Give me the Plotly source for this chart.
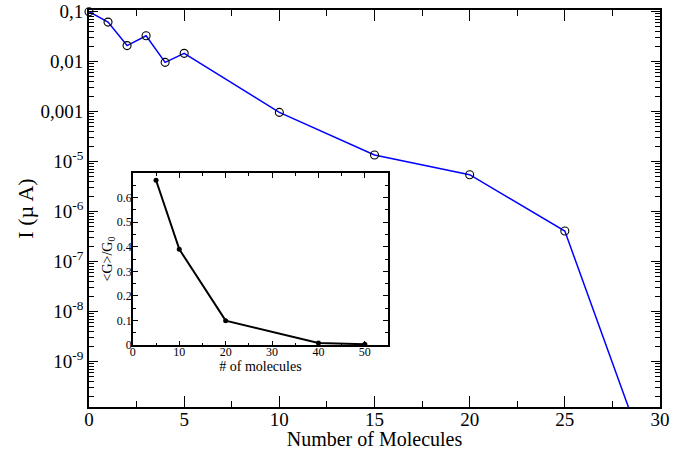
import plotly.graph_objects as go

# main data
n_mol = [0, 1, 2, 3, 4, 5, 10, 15, 20, 25, 30]
current = [0.1, 0.062, 0.021, 0.033, 0.0097, 0.0147, 0.00097, 1.36e-4, 5.5e-5, 4.1e-6, 2.2e-11]

# inset data
inset_n = [5, 10, 20, 40, 50]
inset_g = [0.67, 0.39, 0.10, 0.009, 0.004]

# tick labels (as printed in the original)
y_tickvals = [1e-1, 1e-2, 1e-3, 1e-4, 1e-5, 1e-6, 1e-7, 1e-8]
y_ticktext = ["0,1", "0,01", "0,001", "10<sup>-5</sup>", "10<sup>-6</sup>",
              "10<sup>-7</sup>", "10<sup>-8</sup>", "10<sup>-9</sup>"]
y_minor = [k * 10.0 ** e for e in range(-10, 0) for k in range(2, 10)]

Y_RANGE = [-8.906, -0.966]
FONT = "Liberation Serif, Times New Roman, serif"

# markers only where the point lies inside the visible y range
vis = [(x, y) for x, y in zip(n_mol, current) if y >= 10 ** Y_RANGE[0]]

fig = go.Figure()
fig.add_trace(go.Scatter(
    x=n_mol, y=current, mode="lines",
    line=dict(color="#0000ff", width=1.5),
    xaxis="x", yaxis="y", showlegend=False))
fig.add_trace(go.Scatter(
    x=[p[0] for p in vis], y=[p[1] for p in vis], mode="markers",
    marker=dict(symbol="circle-open", size=8, color="black", line=dict(width=1.1)),
    xaxis="x", yaxis="y", showlegend=False, cliponaxis=False))
fig.add_trace(go.Scatter(
    x=inset_n, y=inset_g, mode="lines+markers",
    line=dict(color="black", width=2),
    marker=dict(symbol="circle", size=5, color="black"),
    xaxis="x2", yaxis="y2", showlegend=False))

fig.update_layout(
    width=684, height=450,
    margin=dict(l=89, r=24, t=10, b=43),
    paper_bgcolor="white", plot_bgcolor="white",
    font=dict(family=FONT, color="black"),
    xaxis=dict(
        range=[0, 30], domain=[0, 1], automargin=False,
        tickmode="array", tickvals=[0, 5, 10, 15, 20, 25, 30],
        ticks="inside", ticklen=11, tickwidth=1.2, tickcolor="black",
        minor=dict(tickvals=[2.5, 7.5, 12.5, 17.5, 22.5, 27.5], ticks="inside",
                   ticklen=6, tickwidth=1.2, tickcolor="black"),
        showline=True, linecolor="black", linewidth=1.8, mirror="ticks",
        showgrid=False, zeroline=False, ticklabeloverflow="allow",
        tickfont=dict(size=19, family=FONT), ticklabelstandoff=-6,
        title=dict(text="Number of Molecules", font=dict(size=20, family=FONT), standoff=0),
    ),
    yaxis=dict(
        type="log", range=Y_RANGE, domain=[0, 1], automargin=False,
        tickmode="array", tickvals=y_tickvals, ticktext=y_ticktext,
        ticks="inside", ticklen=9, tickwidth=1.2, tickcolor="black",
        minor=dict(tickvals=y_minor, ticks="inside", ticklen=5, tickwidth=1,
                   tickcolor="black"),
        showline=True, linecolor="black", linewidth=1.8, mirror="ticks",
        showgrid=False, zeroline=False, ticklabeloverflow="allow",
        tickfont=dict(size=19, family=FONT), ticklabelstandoff=0,
        title=dict(text="I (µ A)", font=dict(size=22, family=FONT), standoff=1),
    ),
    xaxis2=dict(
        range=[0, 55], domain=[0.0768, 0.5237], anchor="y2", automargin=False,
        tickmode="array", tickvals=[0, 10, 20, 30, 40, 50],
        ticks="inside", ticklen=5, tickwidth=1, tickcolor="black",
        minor=dict(dtick=5, ticks="inside", ticklen=3, tickwidth=1, tickcolor="black"),
        showline=True, linecolor="black", linewidth=1.5, mirror="ticks",
        showgrid=False, zeroline=False, ticklabeloverflow="allow",
        tickfont=dict(size=12, family=FONT), ticklabelstandoff=-5,
        title=dict(text="# of molecules", font=dict(size=14, family=FONT), standoff=0),
    ),
    yaxis2=dict(
        range=[0, 0.7], domain=[0.1555, 0.5899], anchor="x2", automargin=False,
        tickmode="array", tickvals=[0, 0.1, 0.2, 0.3, 0.4, 0.5, 0.6],
        ticktext=["0", "0.1", "0.2", "0.3", "0.4", "0.5", "0.6"],
        ticks="inside", ticklen=5, tickwidth=1, tickcolor="black",
        minor=dict(dtick=0.05, ticks="inside", ticklen=3, tickwidth=1, tickcolor="black"),
        showline=True, linecolor="black", linewidth=1.5, mirror="ticks",
        showgrid=False, zeroline=False, ticklabeloverflow="allow",
        tickfont=dict(size=12, family=FONT), ticklabelstandoff=-3,
        title=dict(text="<G>/G<sub>0</sub>", font=dict(size=14, family=FONT), standoff=0),
    ),
)

fig.write_html("out.html", config={"displayModeBar": False},
               post_script="document.body.style.margin='0';")
